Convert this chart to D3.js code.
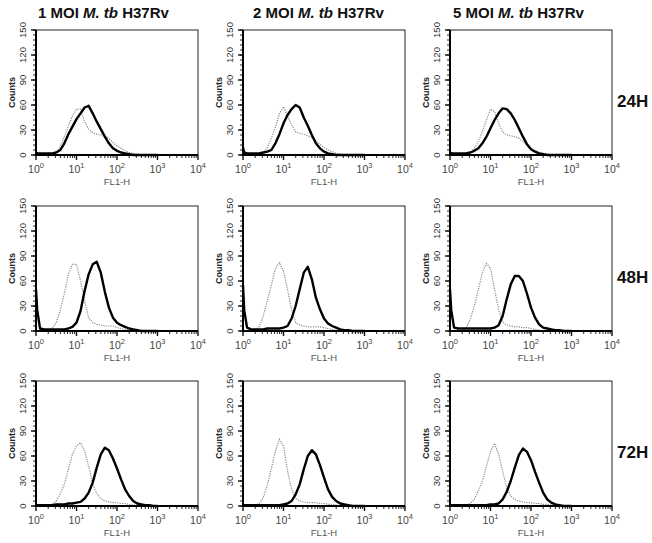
<!DOCTYPE html>
<html>
<head>
<meta charset="utf-8">
<script src="https://cdn.jsdelivr.net/npm/d3@7"></script>
<style>
  html, body { margin: 0; padding: 0; background: #fff; }
  svg { display: block; font-family: "Liberation Sans", Arial, Helvetica, sans-serif; }
</style>
</head>
<body>
<div id="chart"></div>
<script>
// log10 of FL1-H channel for every histogram point (10^0 .. 10^3)
const logBins = [0.0, 0.03, 0.1, 0.2, 0.3, 0.4, 0.5, 0.6, 0.7, 0.8, 0.9,
                 1.0, 1.1, 1.2, 1.3, 1.4, 1.5, 1.6, 1.7, 1.8, 1.9,
                 2.0, 2.1, 2.2, 2.3, 2.4, 2.5, 2.6, 2.7, 2.8, 2.9, 3.0];

const moiLabels = ["1", "2", "5"];
const timeLabels = ["24H", "48H", "72H"];
const yTicks = [0, 30, 60, 90, 120, 150];
const xTicks = [1, 10, 100, 1000, 10000];

// counts, one array per MOI (1, 2, 5); thick black = infected, dotted grey = control
const infected24H = [
  [3, 2, 2, 2, 2, 2, 3, 6, 14, 25, 34, 43, 50, 57, 59, 50, 40, 31, 22, 14, 8, 5, 3, 2, 1, 0, 0, 0, 0, 0, 0, 0],
  [9, 3, 2, 2, 2, 2, 3, 4, 6, 14, 25, 38, 48, 55, 60, 57, 45, 35, 24, 14, 8, 4, 2, 1, 0, 0, 0, 0, 0, 0, 0, 0],
  [3, 2, 2, 2, 2, 2, 3, 5, 8, 14, 22, 32, 42, 50, 56, 55, 50, 42, 32, 22, 13, 7, 4, 2, 1, 0, 0, 0, 0, 0, 0, 0]
];
const control24H = [
  [0, 0, 0, 0, 0, 1, 3, 10, 22, 35, 47, 55, 55, 40, 31, 27, 25, 24, 23, 20, 15, 11, 8, 5, 3, 2, 1, 0, 0, 0, 0, 0],
  [0, 0, 0, 0, 0, 1, 3, 9, 20, 33, 50, 58, 47, 36, 28, 26, 25, 23, 21, 17, 13, 9, 6, 4, 2, 1, 0, 0, 0, 0, 0, 0],
  [0, 0, 0, 0, 0, 1, 3, 8, 16, 28, 42, 55, 52, 38, 28, 24, 23, 22, 20, 16, 12, 8, 5, 3, 2, 1, 0, 0, 0, 0, 0, 0]
];
const infected48H = [
  [50, 25, 3, 2, 2, 2, 2, 2, 2, 3, 5, 10, 24, 48, 68, 80, 83, 70, 47, 28, 16, 10, 7, 5, 3, 2, 1, 0, 0, 0, 0, 0],
  [55, 25, 4, 2, 2, 2, 2, 3, 3, 3, 3, 4, 6, 15, 30, 50, 70, 77, 62, 40, 26, 15, 9, 6, 4, 2, 1, 1, 0, 0, 0, 0],
  [50, 25, 4, 3, 3, 3, 3, 3, 3, 3, 3, 3, 4, 7, 18, 38, 56, 66, 66, 60, 45, 28, 16, 8, 4, 3, 2, 1, 1, 0, 0, 0]
];
const control48H = [
  [0, 0, 0, 0, 1, 3, 10, 25, 45, 68, 80, 80, 60, 36, 16, 10, 8, 7, 6, 6, 6, 4, 3, 2, 1, 0, 0, 0, 0, 0, 0, 0],
  [0, 0, 0, 0, 1, 5, 18, 36, 55, 75, 82, 72, 50, 26, 10, 7, 6, 5, 5, 5, 5, 4, 3, 2, 1, 0, 0, 0, 0, 0, 0, 0],
  [0, 0, 0, 0, 1, 4, 14, 30, 50, 70, 81, 75, 50, 26, 11, 7, 6, 5, 5, 4, 4, 3, 2, 1, 0, 0, 0, 0, 0, 0, 0, 0]
];
const infected72H = [
  [1, 1, 1, 1, 1, 1, 2, 2, 2, 3, 3, 4, 5, 9, 16, 28, 46, 62, 70, 67, 57, 45, 32, 20, 12, 6, 3, 2, 1, 1, 0, 0],
  [1, 1, 1, 1, 1, 1, 1, 1, 1, 1, 1, 2, 3, 6, 14, 26, 44, 60, 67, 62, 49, 34, 20, 11, 6, 3, 2, 1, 0, 0, 0, 0],
  [1, 1, 1, 1, 1, 1, 1, 1, 1, 1, 1, 2, 2, 3, 8, 17, 30, 46, 61, 69, 65, 55, 41, 28, 16, 8, 4, 2, 1, 0, 0, 0]
];
const control72H = [
  [0, 0, 0, 0, 1, 2, 6, 15, 26, 44, 62, 72, 76, 66, 48, 26, 15, 9, 6, 5, 4, 4, 3, 3, 2, 1, 1, 0, 0, 0, 0, 0],
  [0, 0, 0, 0, 1, 3, 10, 25, 45, 66, 80, 72, 42, 20, 9, 6, 5, 4, 4, 4, 3, 3, 2, 2, 1, 0, 0, 0, 0, 0, 0, 0],
  [0, 0, 0, 0, 0, 1, 3, 8, 18, 30, 48, 65, 75, 62, 42, 22, 12, 8, 6, 5, 4, 4, 3, 3, 2, 2, 1, 0, 0, 0, 0, 0]
];

const infectedRows = [infected24H, infected48H, infected72H];
const controlRows = [control24H, control48H, control72H];

const W = 652, H = 543;
const colX = [36, 243, 450];   // plot box left edges
const rowY = [30, 206, 381];   // plot box top edges
const pw = 162, ph = 125;

const svg = d3.select("#chart").append("svg")
  .attr("width", W).attr("height", H)
  .attr("viewBox", `0 0 ${W} ${H}`);

const x = d3.scaleLog().domain([1, 10000]).range([0, pw]);
const y = d3.scaleLinear().domain([0, 150]).range([ph, 0]);

const line = d3.line()
  .x((d) => x(Math.pow(10, d[0])))
  .y((d) => y(d[1]));

// column titles
const titleX = [38, 253, 453];
moiLabels.forEach((m, i) => {
  const t = svg.append("text")
    .attr("x", titleX[i]).attr("y", 18)
    .attr("font-size", 15).attr("font-weight", "bold").attr("fill", "#111");
  t.append("tspan").text(`${m} MOI `);
  t.append("tspan").attr("font-style", "italic").text("M. tb");
  t.append("tspan").text(" H37Rv");
});

// row labels
timeLabels.forEach((lab, r) => {
  svg.append("text")
    .attr("x", 617).attr("y", rowY[r] + 77)
    .attr("font-size", 17).attr("font-weight", "bold").attr("fill", "#111")
    .text(lab);
});

rowY.forEach((top, r) => {
  colX.forEach((left, c) => {
    const g = svg.append("g").attr("transform", `translate(${left},${top})`);
    const pts = (arr) => logBins.map((b, i) => [b, arr[i]]);

    // y axis ticks (minor every 6 counts)
    const yMinor = d3.range(0, 151, 6);
    g.selectAll("line.ymin").data(yMinor).join("line")
      .attr("x1", -3).attr("x2", 0)
      .attr("y1", (d) => y(d)).attr("y2", (d) => y(d))
      .attr("stroke", "#222").attr("stroke-width", 1);
    g.selectAll("line.ymaj").data(yTicks).join("line")
      .attr("x1", -5).attr("x2", 0)
      .attr("y1", (d) => y(d)).attr("y2", (d) => y(d))
      .attr("stroke", "#111").attr("stroke-width", 1.4);
    g.selectAll("text.ylab").data(yTicks).join("text")
      .attr("transform", (d) => `translate(-10,${y(d)}) rotate(-90)`)
      .attr("text-anchor", "middle")
      .attr("font-size", 9.5).attr("fill", "#333")
      .text((d) => d);
    g.append("text")
      .attr("transform", `translate(-21,${ph * 0.5}) rotate(-90)`)
      .attr("text-anchor", "middle")
      .attr("font-size", 9).attr("font-weight", "bold").attr("fill", "#222")
      .text("Counts");

    // x axis ticks (log minor)
    const xMinor = [];
    for (let p = 1; p < 10000; p *= 10) for (let k = 2; k <= 9; k++) xMinor.push(p * k);
    g.selectAll("line.xmin").data(xMinor).join("line")
      .attr("x1", (d) => x(d)).attr("x2", (d) => x(d))
      .attr("y1", ph).attr("y2", ph + 3)
      .attr("stroke", "#222").attr("stroke-width", 1);
    g.selectAll("line.xmaj").data(xTicks).join("line")
      .attr("x1", (d) => x(d)).attr("x2", (d) => x(d))
      .attr("y1", ph).attr("y2", ph + 5)
      .attr("stroke", "#111").attr("stroke-width", 1.4);
    const xl = g.selectAll("text.xlab").data(xTicks).join("text")
      .attr("x", (d) => x(d)).attr("y", ph + 18)
      .attr("text-anchor", "middle")
      .attr("font-size", 10.5).attr("fill", "#444");
    xl.append("tspan").text("10");
    xl.append("tspan").attr("dy", -5).attr("font-size", 7.5)
      .text((d) => Math.round(Math.log10(d)));
    g.append("text")
      .attr("x", pw * 0.5).attr("y", ph + 30)
      .attr("text-anchor", "middle")
      .attr("font-size", 9.5).attr("fill", "#555")
      .text("FL1-H");

    // histograms
    g.append("path").datum(pts(controlRows[r][c]))
      .attr("d", line).attr("fill", "none")
      .attr("stroke", "#8a8a8a").attr("stroke-width", 1.2)
      .attr("stroke-dasharray", "1.2,1.2");
    g.append("path").datum(pts(infectedRows[r][c]))
      .attr("d", line).attr("fill", "none")
      .attr("stroke", "#000").attr("stroke-width", 2.4)
      .attr("stroke-linejoin", "round");

    // frame: heavier left/bottom
    g.append("rect").attr("width", pw).attr("height", ph)
      .attr("fill", "none").attr("stroke", "#222").attr("stroke-width", 1);
    g.append("path").attr("d", `M0,0V${ph}H${pw}`)
      .attr("fill", "none").attr("stroke", "#000").attr("stroke-width", 2);
  });
});
</script>
</body>
</html>
